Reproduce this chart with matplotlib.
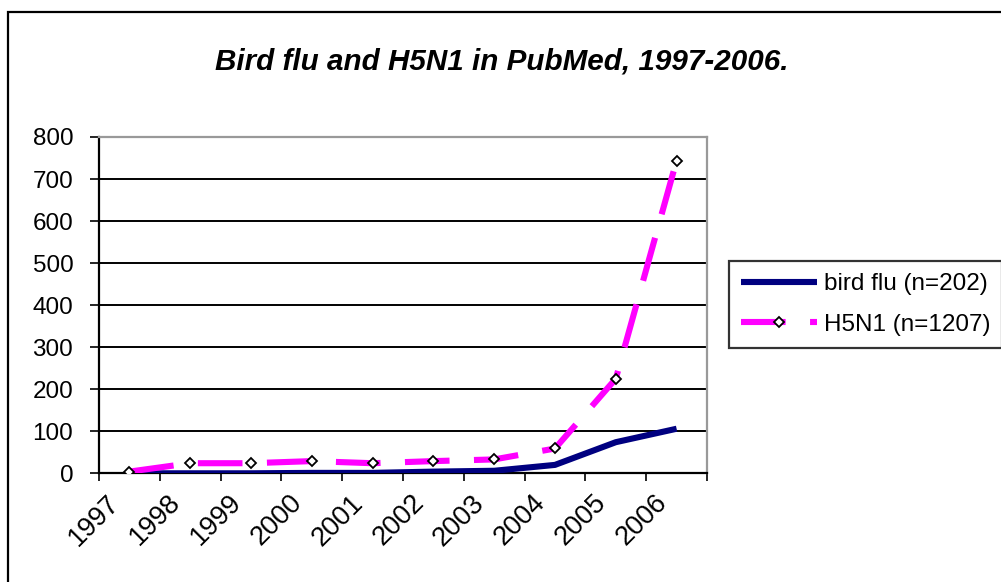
import matplotlib
matplotlib.use("Agg")
import matplotlib.pyplot as plt
import matplotlib.transforms as mtransforms
from matplotlib.patches import Rectangle

plt.rcParams['font.family'] = ['Liberation Sans', 'DejaVu Sans']

years = ['1997', '1998', '1999', '2000', '2001', '2002', '2003', '2004', '2005', '2006']
bird_flu = [0, 0, 0, 1, 1, 4, 6, 20, 74, 106]
h5n1 = [4, 24, 24, 29, 24, 29, 33, 59, 225, 744]
yticks = [0, 100, 200, 300, 400, 500, 600, 700, 800]
title = 'Bird flu and H5N1 in PubMed, 1997-2006.'
labels = ['bird flu (n=202)', 'H5N1 (n=1207)']

W, H = 1001, 582
FS = 17.5
fig = plt.figure(figsize=(W / 100, H / 100), dpi=100)

# outer chart frame
fig.patches.append(Rectangle((8 / W, -0.05), 1.2, 1 - 12 / H + 0.05, transform=fig.transFigure,
                             fill=False, edgecolor='black', linewidth=1.6))

ax = fig.add_axes([99 / W, 1 - 473.3 / H, (707 - 99) / W, (473.3 - 137) / H])

x = [i + 0.5 for i in range(len(years))]
ax.plot(x, bird_flu, color='#000080', linewidth=4.4, solid_capstyle='butt', label=labels[0], zorder=3)
ax.plot(x, h5n1, color='#FF00FF', linewidth=4.4, dashes=(7.3, 4), dash_capstyle='butt',
        marker='D', markersize=5.3, markerfacecolor='white', markeredgecolor='black',
        markeredgewidth=1.3, label=labels[1], zorder=4)

ax.set_xlim(0, len(years))
ax.set_ylim(0, 800)
ax.set_yticks(yticks)
ax.yaxis.grid(True, color='black', linewidth=1.4)
ax.set_axisbelow(True)

ax.set_xticks(range(len(years) + 1))
ax.set_xticklabels(years + [''], rotation=45, ha='right', va='center', rotation_mode='anchor', fontsize=19.5)
ax.tick_params(axis='x', length=5.5, width=1.2, pad=0, direction='out')
ax.tick_params(axis='y', length=6.5, width=1.2, pad=12, direction='out', labelsize=FS)
offset = mtransforms.ScaledTranslation(17 / 100, -18 / 100, fig.dpi_scale_trans)
for lab in ax.get_xticklabels():
    lab.set_transform(lab.get_transform() + offset)

for s in ['left', 'bottom']:
    ax.spines[s].set_color('black')
    ax.spines[s].set_linewidth(1.6)
for s in ['top', 'right']:
    ax.spines[s].set_color('#999999')
    ax.spines[s].set_linewidth(1.6)

fig.text(502 / W, 1 - 62 / H, title, ha='center', va='center', fontsize=21.3,
         fontweight='bold', fontstyle='italic')

leg = fig.legend(loc='upper left', bbox_to_anchor=(729 / W, 1 - 261 / H), bbox_transform=fig.transFigure,
                 fontsize=FS, frameon=True, fancybox=False, edgecolor='black', handlelength=3.1,
                 handletextpad=0.29, labelspacing=0.76, borderpad=0.5, borderaxespad=0)
leg.get_frame().set_linewidth(1.6)

fig.savefig('out.png', dpi=100)
